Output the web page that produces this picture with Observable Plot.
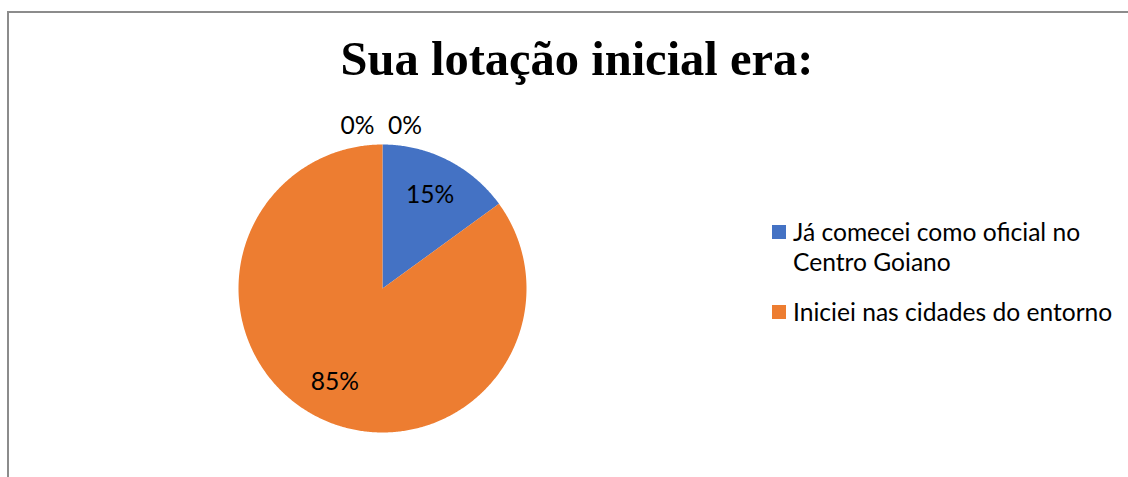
<!DOCTYPE html>
<html><head><meta charset="utf-8">
<script src="https://cdn.jsdelivr.net/npm/d3@7"></script>
<script src="https://cdn.jsdelivr.net/npm/@observablehq/plot@0.6"></script>
<style>
body{margin:0;background:#fff;}
#wrap{position:relative;width:1128px;height:477px;overflow:hidden;font-family:Lato,"Open Sans",sans-serif;}
#frame{position:absolute;left:7px;top:11px;width:1300px;height:700px;border-top:2px solid #8c8c8c;border-left:2px solid #8c8c8c;}
#title{position:absolute;left:577px;top:31px;transform:translateX(-50%);white-space:nowrap;font:bold 48.5px "Liberation Serif","Times New Roman",serif;color:#000;}
#chart{position:absolute;left:182px;top:88px;}
.leg{position:absolute;left:772px;font-size:24.6px;line-height:30px;color:#000;}
.sw{position:absolute;left:0;width:14px;height:14px;}
.lt{position:absolute;left:21px;white-space:nowrap;}
</style></head>
<body>
<div id="wrap">
  <div id="frame"></div>
  <div id="title"></div>
  <div id="chart"></div>
  <div id="legend"></div>
</div>
<script>
const title = "Sua lotação inicial era:";
const categories = ["Já comecei como oficial no Centro Goiano", "Iniciei nas cidades do entorno"];
const legendLines = [["Já comecei como oficial no", "Centro Goiano"], ["Iniciei nas cidades do entorno"]];
const values = [15, 85];
const zeroValues = [0, 0];
const colors = ["#4472C4", "#ED7D31"];

document.getElementById("title").textContent = title;

const R = 144;
const total = d3.sum(values);
// slice polygons, angles clockwise from north
const rows = [];
const labels = [];
let acc = 0;
values.forEach((v, k) => {
  const a0 = acc / total * 2 * Math.PI;
  acc += v;
  const a1 = acc / total * 2 * Math.PI;
  rows.push({cat: categories[k], x: 0, y: 0});
  const n = Math.max(2, Math.ceil((a1 - a0) / (Math.PI / 360)));
  for (let i = 0; i <= n; i++) {
    const a = a0 + (a1 - a0) * i / n;
    rows.push({cat: categories[k], x: R * Math.sin(a), y: R * Math.cos(a)});
  }
  rows.push({cat: categories[k], x: 0, y: 0});
  const am = (a0 + a1) / 2;
  labels.push({x: 105 * Math.sin(am), y: 105 * Math.cos(am), text: v + "%"});
});
zeroValues.forEach((v, k) => {
  labels.push({x: k === 0 ? -25 : 22.5, y: 162, text: v + "%"});
});

const plot = Plot.plot({
  width: 400, height: 400,
  margin: 0,
  x: {domain: [-200, 200], axis: null},
  y: {domain: [-200, 200], axis: null},
  color: {domain: categories, range: colors},
  marks: [
    Plot.line(rows, {x: "x", y: "y", z: "cat", fill: "cat", stroke: "none", curve: "linear"}),
    Plot.text(labels, {x: "x", y: "y", text: "text", fontSize: 24.6, fill: "#000", fontFamily: "Lato"})
  ]
});
document.getElementById("chart").appendChild(plot);

const leg = document.getElementById("legend");
const tops = [225, 305];
legendLines.forEach((lines, k) => {
  const g = document.createElement("div");
  g.className = "leg";
  g.style.top = tops[k] + "px";
  const sw = document.createElement("div");
  sw.className = "sw"; sw.style.background = colors[k]; sw.style.top = "0px";
  g.appendChild(sw);
  lines.forEach((t, j) => {
    const s = document.createElement("div");
    s.className = "lt"; s.textContent = t; s.style.top = (j * 29.5 - 8) + "px";
    g.appendChild(s);
  });
  leg.appendChild(g);
});
</script>
</body></html>
